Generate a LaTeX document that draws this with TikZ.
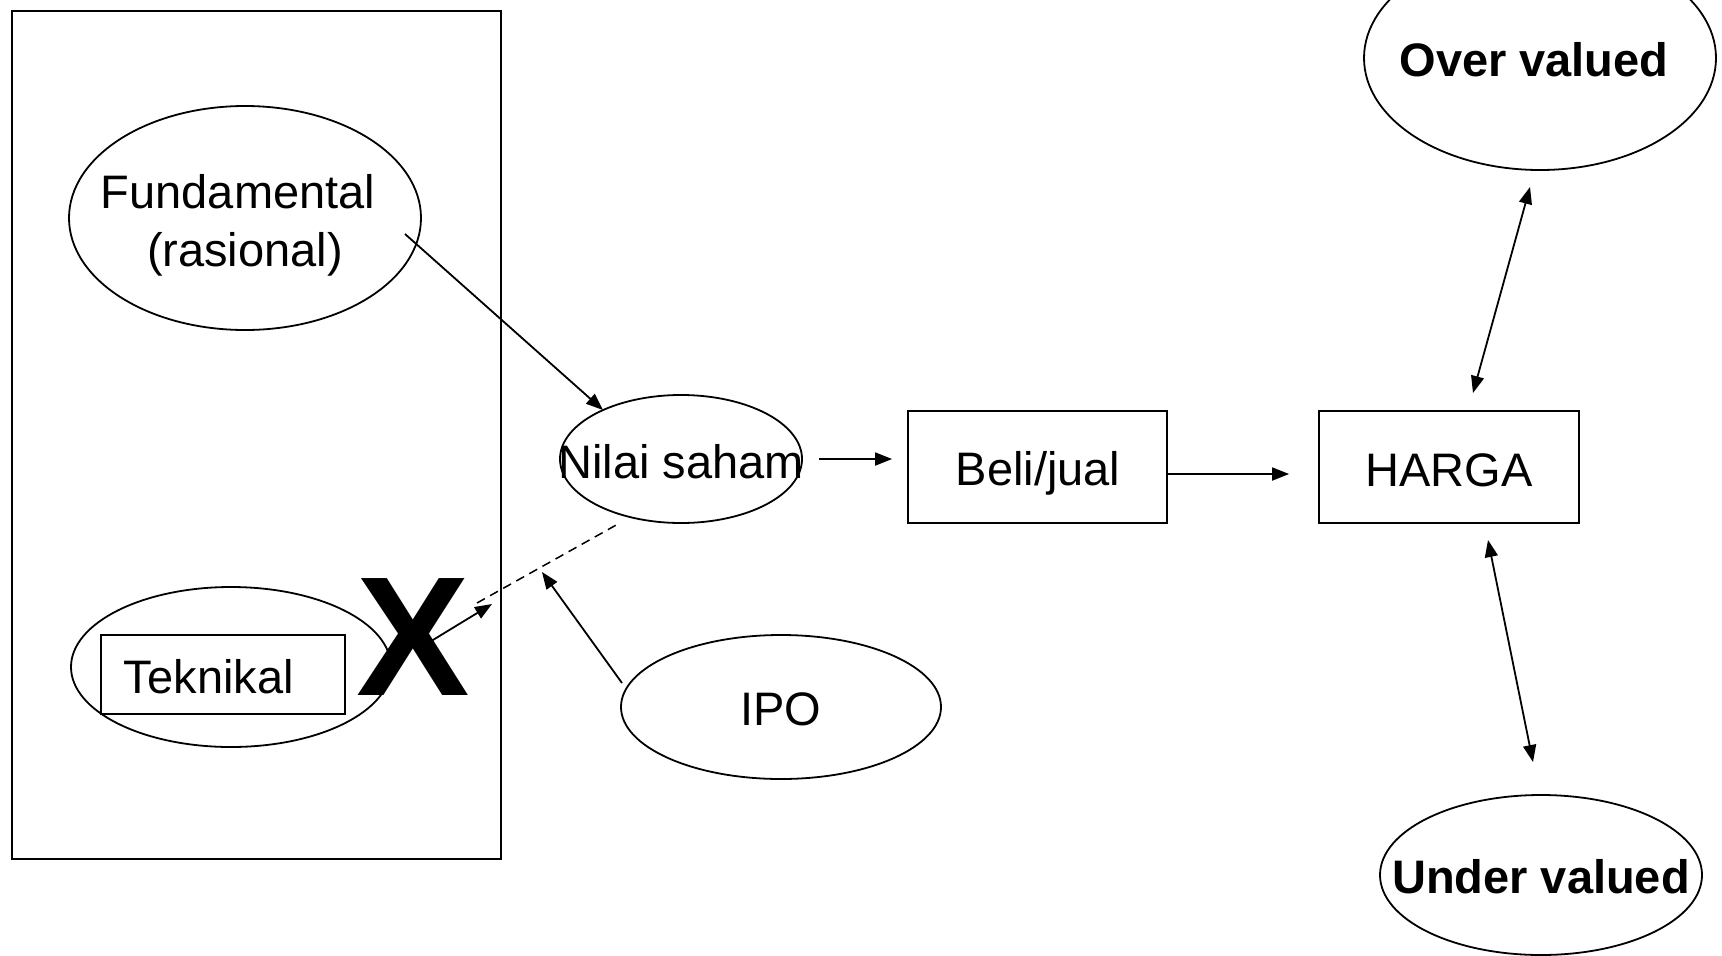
\documentclass[tikz,border=0pt]{standalone}
\usepackage{fontspec}
\setmainfont{Liberation Sans}
\usetikzlibrary{shapes.geometric,arrows.meta}
\begin{document}
\begin{tikzpicture}[x=1pt,y=-1pt,
  line width=1.8pt,
  lbl/.style={font=\fontsize{47}{57}\selectfont, inner sep=0pt, anchor=base},
  boldlbl/.style={font=\fontsize{47}{57}\selectfont\bfseries, inner sep=0pt, anchor=base},
  oval/.style={draw, ellipse, inner sep=0pt},
  box/.style={draw, rectangle, inner sep=0pt},
  tip/.tip={Triangle[length=17pt,width=13pt]},
  arr/.style={-tip},
  biarr/.style={tip-tip},
]
\useasboundingbox (0,0) rectangle (1722,956);
\clip (0,0) rectangle (1722,956);

% analysis frame
\node[box, minimum width=489pt, minimum height=848pt] (frame) at (256.5,435) {};

% fundamental analysis
\node[oval, minimum width=352pt, minimum height=224pt] (fund) at (245,218) {};
\node[lbl] (fundtxtA) at (238,208) {Fundamental};
\node[lbl] (fundtxtB) at (245,266) {(rasional)};

% technical analysis
\node[oval, minimum width=320pt, minimum height=160pt] (tekov) at (231,667) {};
\node[box, minimum width=244pt, minimum height=79pt] (tek) at (223,674.5) {};
\node[lbl, anchor=base west] (tektxt) at (123,693) {Teknikal};
\node[font=\fontsize{170}{170}\selectfont\bfseries, inner sep=0pt] (x) at (413,637) {X};

% share value
\node[oval, minimum width=242pt, minimum height=128pt] (nilai) at (681,459) {};
\node[lbl] (nilaitxt) at (681,478) {Nilai saham};

% IPO
\node[oval, minimum width=320pt, minimum height=144pt] (ipo) at (781,707) {};
\node[lbl] (ipotxt) at (781,725) {IPO};

% trade and price
\node[box, minimum width=259pt, minimum height=112pt] (beli) at (1037.5,467) {};
\node[lbl] (belitxt) at (1038,485) {Beli/jual};
\node[box, minimum width=260pt, minimum height=112pt] (harga) at (1449,467) {};
\node[lbl] (hargatxt) at (1449,486) {HARGA};

% valuation outcomes
\node[oval, minimum width=352pt, minimum height=224pt] (over) at (1540,58) {};
\node[boldlbl] (overtxt) at (1534,76) {Over valued};
\node[oval, minimum width=322pt, minimum height=160pt] (under) at (1541,875) {};
\node[boldlbl] (undertxt) at (1541,893) {Under valued};

% connector end points
\coordinate (fundout) at (405,234);
\coordinate (nilaiin) at (603,410);
\coordinate (tekout) at (428,643);
\coordinate (tekin) at (492,604);
\coordinate (dashA) at (477,603);
\coordinate (dashB) at (618,524);
\coordinate (ipoout) at (622,683);
\coordinate (ipoin) at (542,572);
\coordinate (hoA) at (1473,393);
\coordinate (hoB) at (1530,187);
\coordinate (huA) at (1488,540);
\coordinate (huB) at (1533,762);

% connectors
\draw[arr] (fundout) -- (nilaiin);
\draw[arr] (tekout) -- (tekin);
\draw[line width=1.5pt, dash pattern=on 9pt off 6pt] (dashA) -- (dashB);
\draw[arr] (ipoout) -- (ipoin);
\draw[arr, shorten <=16pt, shorten >=15pt] (nilai.east) -- (nilai.east -| beli.west);
\draw[arr, shorten >=29pt] ([yshift=-7pt]beli.east) -- ([yshift=-7pt]beli.east -| harga.west);
\draw[biarr] (hoA) -- (hoB);
\draw[biarr] (huA) -- (huB);
\end{tikzpicture}
\end{document}
